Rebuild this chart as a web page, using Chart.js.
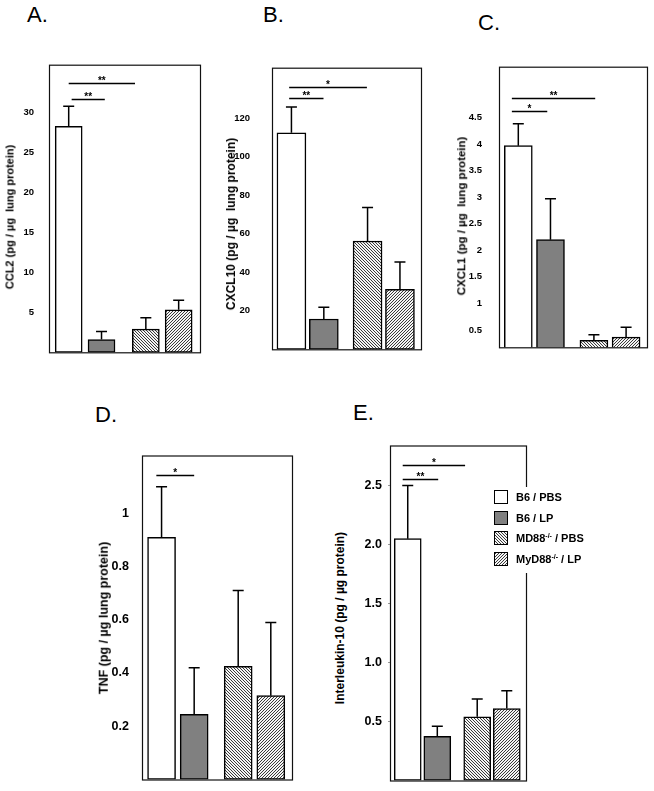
<!DOCTYPE html>
<html>
<head>
<meta charset="utf-8">
<script src="https://cdn.jsdelivr.net/npm/chart.js@4.4.1/dist/chart.umd.min.js"></script>
<style>
  html, body { margin: 0; padding: 0; background: #fff; }
  body { width: 654px; height: 791px; position: relative; overflow: hidden;
         font-family: "Liberation Sans", Arial, sans-serif; color: #000; }
  .panel { position: absolute; }
  .letter { position: absolute; font-size: 22px; line-height: 1; }
  .ytitle { position: absolute; font-weight: bold; white-space: pre; line-height: 1;
            transform: translate(-50%, -50%) rotate(-90deg); }
</style>
</head>
<body>
<script>
// ---- data ----
const GROUPS = ['B6 / PBS', 'B6 / LP', 'MD88-/- / PBS', 'MyD88-/- / LP'];

// A. CCL2
const ccl2Mean  = [28.2, 1.6, 2.9, 5.3];
const ccl2Upper = [30.7, 2.6, 4.3, 6.5];
const ccl2Ticks = [5, 10, 15, 20, 25, 30];
const ccl2Sig   = [{ from: 1.0, to: 3.02, y: 33.6, text: '**' }, { from: 1.09, to: 2.1, y: 31.6, text: '**' }];

// B. CXCL10
const cxcl10Mean  = [112.3, 15.7, 56.2, 31.1];
const cxcl10Upper = [125.7, 21.8, 73.6, 45.3];
const cxcl10Ticks = [20, 40, 60, 80, 100, 120];
const cxcl10Sig   = [{ from: 0.93, to: 3.33, y: 136.1, text: '*' }, { from: 0.93, to: 1.99, y: 130.4, text: '**' }];

// C. CXCL1
const cxcl1Mean  = [3.97, 2.2, 0.305, 0.365];
const cxcl1Upper = [4.38, 2.97, 0.41, 0.55];
const cxcl1Ticks = [0.5, 1, 1.5, 2, 2.5, 3, 3.5, 4, 4.5];
const cxcl1Sig   = [{ from: 0.8, to: 3.39, y: 4.86, text: '**' }, { from: 0.8, to: 1.9, y: 4.63, text: '*' }];

// D. TNF
const tnfMean  = [0.91, 0.245, 0.425, 0.315];
const tnfUpper = [1.10, 0.42, 0.71, 0.59];
const tnfTicks = [0.2, 0.4, 0.6, 0.8, 1];
const tnfSig   = [{ from: 0.84, to: 2.0, y: 1.144, text: '*' }];

// E. IL-10
const il10Mean  = [2.05, 0.375, 0.54, 0.61];
const il10Upper = [2.50, 0.46, 0.69, 0.76];
const il10Ticks = [0.5, 1.0, 1.5, 2.0, 2.5];
const il10Sig   = [{ from: 0.83, to: 2.94, y: 2.675, text: '*' }, { from: 0.83, to: 2.03, y: 2.56, text: '**' }];

// ---- styling ----
const GROUP_X = [1, 2, 3.35, 4.35];   // slot of each bar on the hidden x axis
const GRAY = '#808080';

function hatch(back) {
  const c = document.createElement('canvas');
  c.width = c.height = 3;
  const g = c.getContext('2d');
  g.fillStyle = '#f4f4f4'; g.fillRect(0, 0, 3, 3);
  g.fillStyle = '#3a3a3a';
  for (let i = 0; i < 3; i++) g.fillRect(back ? i : 2 - i, i, 1, 1);
  return g.createPattern(c, 'repeat');
}
const FILLS = ['#ffffff', GRAY, hatch(true), hatch(false)];

// error bars, significance bars and the frame
const marks = {
  id: 'marks',
  afterDatasetsDraw(chart, args, opts) {
    const { ctx, chartArea: a, scales: { x, y } } = chart;
    const ds = chart.data.datasets[0];
    ctx.save();
    ctx.strokeStyle = '#000';
    ctx.lineWidth = 1.5;
    chart.getDatasetMeta(0).data.forEach((bar, i) => {
      const top = y.getPixelForValue(ds.upper[i]);
      ctx.beginPath();
      ctx.moveTo(bar.x, bar.y); ctx.lineTo(bar.x, top);
      ctx.moveTo(bar.x - 5.5, top); ctx.lineTo(bar.x + 5.5, top);
      ctx.stroke();
    });
    ctx.fillStyle = '#000';
    ctx.font = 'bold 10px "Liberation Sans"';
    ctx.textAlign = 'center';
    ctx.textBaseline = 'alphabetic';
    (opts.sig || []).forEach(s => {
      const x1 = x.getPixelForValue(s.from), x2 = x.getPixelForValue(s.to);
      const yy = Math.round(y.getPixelForValue(s.y)) + 0.5;
      ctx.beginPath(); ctx.moveTo(x1, yy); ctx.lineTo(x2, yy); ctx.stroke();
      ctx.fillText(s.text, (x1 + x2) / 2, yy);
    });
    ctx.lineWidth = 1.2;
    ctx.strokeStyle = '#111';
    ctx.strokeRect(a.left + 0.5, a.top + 0.5, a.right - a.left, a.bottom - a.top);
    ctx.restore();
  },
  afterDraw(chart, args, opts) {
    const lg = opts.legend;
    if (!lg) return;
    const ctx = chart.ctx;
    ctx.save();
    ctx.fillStyle = '#fff';
    ctx.fillRect(lg.bg[0], lg.bg[1], lg.bg[2], lg.bg[3]);
    GROUPS.forEach((label, i) => {
      const y0 = Math.round(lg.y + i * lg.rowH);
      ctx.fillStyle = FILLS[i];
      ctx.fillRect(lg.x, y0, 14, 14);
      ctx.strokeStyle = '#000'; ctx.lineWidth = 1;
      ctx.strokeRect(lg.x + 0.5, y0 + 0.5, 13, 13);
      ctx.fillStyle = '#000';
      ctx.textAlign = 'left';
      ctx.textBaseline = 'alphabetic';
      const m = label.match(/^(.*?)(-\/-)(.*)$/);
      const parts = m ? [[m[1], 0], [m[2], 1], [m[3], 0]] : [[label, 0]];
      let tx = lg.x + 22;
      const ty = y0 + 11;
      parts.forEach(([t, sup]) => {
        ctx.font = sup ? 'bold 7px "Liberation Sans"' : 'bold 11px "Liberation Sans"';
        ctx.fillText(t, tx, sup ? ty - 4 : ty);
        tx += ctx.measureText(t).width;
      });
    });
    ctx.restore();
  },
};

// geometry of each panel's frame on the page: left, top, right, bottom
function panel(p) {
  const AXW = 40, PAD = 10;
  const padR = p.padR || 10;
  const div = document.createElement('div');
  div.className = 'panel';
  div.style.left = (p.box[0] - AXW) + 'px';
  div.style.top = (p.box[1] - PAD) + 'px';
  div.style.width = (p.box[2] - p.box[0] + AXW + padR) + 'px';
  div.style.height = (p.box[3] - p.box[1] + 2 * PAD) + 'px';
  const cv = document.createElement('canvas');
  div.appendChild(cv);
  document.body.appendChild(div);

  const letter = document.createElement('div');
  letter.className = 'letter';
  letter.textContent = p.letter;
  letter.style.left = p.letterAt[0] + 'px';
  letter.style.top = p.letterAt[1] + 'px';
  document.body.appendChild(letter);

  const t = document.createElement('div');
  t.className = 'ytitle';
  t.textContent = p.title;
  t.style.left = p.titleAt[0] + 'px';
  t.style.top = p.titleAt[1] + 'px';
  t.style.fontSize = p.titleSize + 'px';
  document.body.appendChild(t);

  new Chart(cv, {
    type: 'bar',
    data: {
      datasets: [{
        data: GROUP_X.map((x, i) => ({ x, y: p.mean[i] })),
        upper: p.upper,
        backgroundColor: FILLS,
        borderColor: '#000',
        borderWidth: 1.5,
        borderSkipped: false,
        barThickness: p.barW,
      }],
    },
    options: {
      responsive: true,
      maintainAspectRatio: false,
      animation: false,
      events: [],
      layout: { padding: { left: 0, top: PAD, bottom: PAD, right: padR } },
      plugins: {
        legend: { display: false },
        tooltip: { enabled: false },
        marks: { sig: p.sig, legend: p.legend },
      },
      scales: {
        x: { type: 'linear', display: false, min: 0.4, max: 5.0, offset: false },
        y: {
          min: p.min, max: p.max,
          afterBuildTicks: s => { s.ticks = p.ticks.map(value => ({ value })); },
          afterFit: s => { s.width = AXW; },
          border: { display: false },
          grid: p.tickMarks
            ? { display: true, drawOnChartArea: false, tickLength: 2, color: '#999' }
            : { display: false },
          ticks: { color: '#000', font: p.tickFont, padding: p.tickPad, callback: p.fmt },
        },
      },
    },
    plugins: [marks],
  });
}

const NARROW = '"Liberation Sans Narrow", "Liberation Sans", Arial';

panel({ letter: 'A.', letterAt: [27, 4], box: [49, 62, 200, 355],
  title: 'CCL2 (pg / µg  lung protein)', titleAt: [10, 217], titleSize: 11,
  mean: ccl2Mean, upper: ccl2Upper, ticks: ccl2Ticks, sig: ccl2Sig,
  min: 0, max: 35.9, barW: 27, tickPad: 7,
  tickFont: { family: NARROW, size: 9.5, weight: 'bold' }, fmt: v => String(v) });

panel({ letter: 'B.', letterAt: [263, 4], box: [272, 58, 421, 359],
  title: 'CXCL10 (pg / µg  lung protein)', titleAt: [231, 224], titleSize: 12,
  mean: cxcl10Mean, upper: cxcl10Upper, ticks: cxcl10Ticks, sig: cxcl10Sig,
  min: 0, max: 146.1, barW: 29, tickPad: 14,
  tickFont: { family: NARROW, size: 9.5, weight: 'bold' }, fmt: v => String(v) });

panel({ letter: 'C.', letterAt: [478, 12], box: [499, 62, 647, 352],
  title: 'CXCL1 (pg / µg  lung protein)', titleAt: [462, 216], titleSize: 11.5,
  mean: cxcl1Mean, upper: cxcl1Upper, ticks: cxcl1Ticks, sig: cxcl1Sig,
  min: 0.173, max: 5.456, barW: 28, tickPad: 9,
  tickFont: { family: NARROW, size: 9.5, weight: 'bold' }, fmt: v => String(v) });

panel({ letter: 'D.', letterAt: [95, 404], box: [142, 453, 292, 782],
  title: 'TNF (pg / µg lung protein)', titleAt: [104, 618], titleSize: 12.5,
  mean: tnfMean, upper: tnfUpper, ticks: tnfTicks, sig: tnfSig,
  min: 0, max: 1.217, barW: 28, tickPad: 5,
  tickFont: { family: '"Liberation Sans", Arial', size: 12.5, weight: 'bold' }, fmt: v => String(v) });

panel({ letter: 'E.', letterAt: [353, 402], box: [390, 442, 526, 784],
  title: 'Interleukin-10 (pg / µg protein)', titleAt: [340, 618], titleSize: 12,
  mean: il10Mean, upper: il10Upper, ticks: il10Ticks, sig: il10Sig,
  min: 0, max: 2.84, barW: 27, tickPad: 6, tickMarks: true, padR: 80,
  legend: { x: 144, y: 58, rowH: 20.7, bg: [139, 55, 110, 86] },
  tickFont: { family: '"Liberation Sans", Arial', size: 12.5, weight: 'bold' }, fmt: v => v.toFixed(1) });
</script>
</body>
</html>
